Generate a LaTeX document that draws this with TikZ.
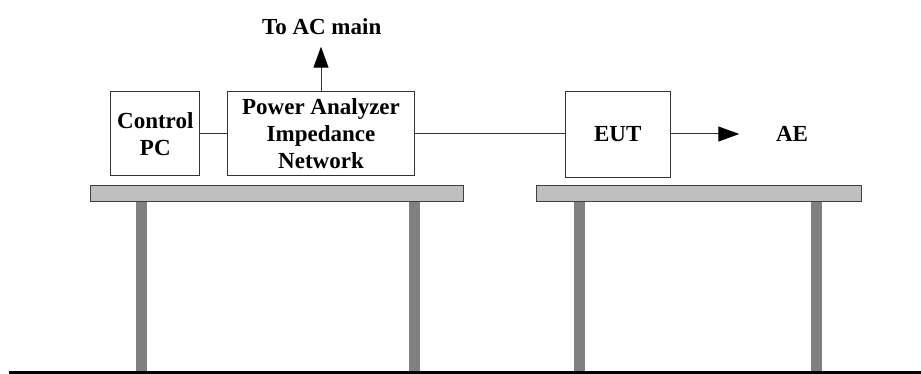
\documentclass[tikz,border=0pt]{standalone}
\usepackage{fontspec}
\setmainfont{Liberation Serif}
\usetikzlibrary{arrows.meta}
\begin{document}
\begin{tikzpicture}[x=1pt,y=-1pt,
  box/.style={draw=black!80,line width=1pt,fill=white,inner sep=0pt,align=center,
    font=\fontsize{23}{27}\selectfont\bfseries},
  lbl/.style={inner sep=0pt,font=\fontsize{23}{27}\selectfont\bfseries},
  wire/.style={draw=black!80,line width=1pt},
  arr/.style={wire,-{Triangle[length=21pt,width=15pt,fill=black,color=black]}},
  tabletop/.style={draw=black!75,line width=1pt,fill=black!25},
  leg/.style={fill=black!50,draw=none}]
\useasboundingbox (0,0) rectangle (921,374);
% legs
\fill[leg] (136.2,201.7) rectangle (146.8,372);
\fill[leg] (409.3,201.7) rectangle (420.4,372);
\fill[leg] (573.7,201.7) rectangle (584.8,372);
\fill[leg] (811,201.7) rectangle (821.5,372);
% tables
\draw[tabletop] (90,185.7) rectangle (463.3,201.7);
\draw[tabletop] (536.7,185.5) rectangle (861.7,201.7);
% floor
\fill[black] (9,370.5) rectangle (921,374);
% boxes
\node[box,minimum width=89.3pt,minimum height=84.3pt] (ctrl) at (155.3,133.8) {Control\\PC};
\node[box,minimum width=186.6pt,minimum height=84.3pt] (pa) at (321,133.8) {Power Analyzer\\Impedance\\Network};
\node[box,minimum width=105.3pt,minimum height=85.6pt] (eut) at (617.7,134.5) {EUT};
\node[lbl] (ac) at (321.7,27) {To AC main};
\node[lbl] (ae) at (792,134) {AE};
\coordinate (actip) at (321,46.7);
\coordinate (aetip) at (739.3,134);
% connectors
\draw[wire] (ctrl.east) -- (pa.west);
\draw[wire] (pa.east) -- (pa.east -| eut.west);
\draw[arr] (pa.north) -- (actip);
\draw[arr] (eut.east |- aetip) -- (aetip);
\end{tikzpicture}
\end{document}
